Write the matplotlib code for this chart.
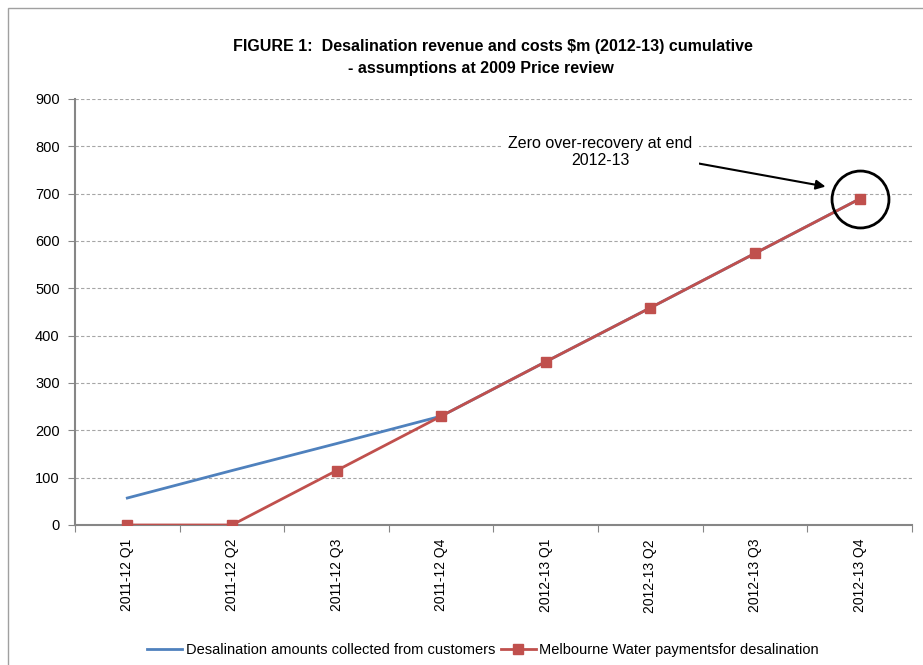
import matplotlib
matplotlib.use("Agg")
import matplotlib.pyplot as plt
from matplotlib.patches import Rectangle

plt.rcParams['font.family'] = ['Liberation Sans', 'DejaVu Sans']

quarters = ["2011-12 Q1", "2011-12 Q2", "2011-12 Q3", "2011-12 Q4",
            "2012-13 Q1", "2012-13 Q2", "2012-13 Q3", "2012-13 Q4"]
collected = [57, 115, 172, 230, 345, 459, 574, 689]
payments = [0, 0, 115, 230, 345, 459, 574, 689]
y_ticks = [0, 100, 200, 300, 400, 500, 600, 700, 800, 900]

blue = "#4F81BD"
red = "#C0504D"
axis_grey = "#868686"

fig = plt.figure(figsize=(9.23, 6.65), dpi=100)
fig.patches.append(Rectangle((8 / 923, -0.05), 1.2, 1 - 8 / 665 + 0.05,
                             transform=fig.transFigure, fill=False,
                             edgecolor="#a0a0a0", linewidth=1.0))

ax = fig.add_axes([75 / 923, 1 - 525 / 665, 837 / 923, 426 / 665])
x = list(range(len(quarters)))
ax.plot(x, collected, color=blue, linewidth=2.0,
        label="Desalination amounts collected from customers", zorder=3)
ax.plot(x, payments, color=red, linewidth=2.0, marker="s", markersize=7,
        label="Melbourne Water paymentsfor desalination", zorder=4)

ax.set_xlim(-0.5, len(quarters) - 0.5)
ax.set_ylim(0, 900)
ax.set_yticks(y_ticks)
ax.set_yticklabels([str(v) for v in y_ticks], fontsize=10.5)
ax.yaxis.grid(True, linestyle=(0, (3, 2)), color="#a6a6a6", linewidth=0.8)
ax.set_axisbelow(True)

ax.set_xticks([i + 0.5 for i in range(-1, len(quarters))])
ax.set_xticklabels([])
ax.set_xticks(x, minor=True)
ax.set_xticklabels(quarters, minor=True, rotation=90, fontsize=10)
ax.tick_params(axis="x", which="minor", length=0, pad=10)
ax.tick_params(axis="x", which="major", length=5, color=axis_grey, direction="out")
ax.tick_params(axis="y", length=5, color=axis_grey, direction="out", pad=6)

for side in ["top", "right"]:
    ax.spines[side].set_visible(False)
for side in ["left", "bottom"]:
    ax.spines[side].set_color(axis_grey)
    ax.spines[side].set_linewidth(1.5)

# Circle around the final quarter and the explanatory arrow
ax.plot([x[-1]], [payments[-1]], marker="o", markersize=41, markerfacecolor="none",
        markeredgecolor="black", markeredgewidth=2, zorder=5, clip_on=False)
ax.annotate("", xy=(6.7, 714), xytext=(5.28, 771),
            arrowprops=dict(arrowstyle="-|>", color="black", lw=1.5,
                            mutation_scale=14), zorder=6)
ax.text(4.52, 788, "Zero over-recovery at end\n2012-13", ha="center", va="center",
        fontsize=11.5, linespacing=1.2,
        bbox=dict(facecolor="white", edgecolor="none", pad=5), zorder=6)

fig.text(493 / 923, 1 - 47 / 665,
         "FIGURE 1:  Desalination revenue and costs $m (2012-13) cumulative",
         ha="center", va="center", fontsize=11.5, fontweight="bold")
fig.text(481 / 923, 1 - 69 / 665, "- assumptions at 2009 Price review",
         ha="center", va="center", fontsize=11.5, fontweight="bold")

fig.legend(loc="center", bbox_to_anchor=(483 / 923, 1 - 650 / 665), ncol=2,
           frameon=False, fontsize=10.5, handlelength=2.4, handletextpad=0.25,
           columnspacing=0.4)

fig.savefig("out.png", dpi=100)
